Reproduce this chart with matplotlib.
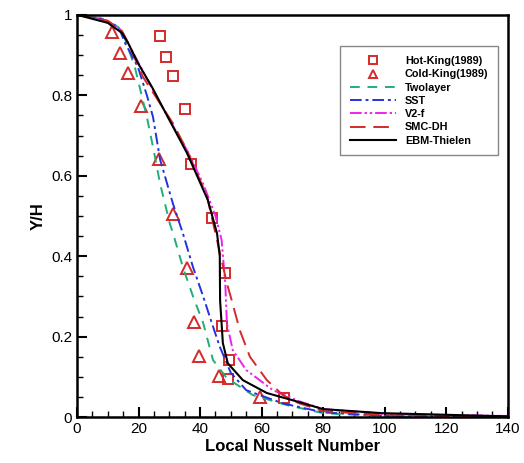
import numpy as np
import matplotlib.pyplot as plt
from matplotlib.ticker import MultipleLocator, FuncFormatter

plt.rcParams["font.family"] = ["Liberation Sans", "DejaVu Sans"]

# measured data (King 1989)
hot_nu = [26.9, 28.9, 31.2, 35.1, 37.0, 43.8, 48.1, 47.1, 49.4, 49.0, 67.2]
hot_y = [0.948, 0.896, 0.848, 0.766, 0.629, 0.495, 0.358, 0.226, 0.142, 0.095, 0.047]

cold_nu = [11.4, 14.0, 16.5, 20.8, 26.6, 31.1, 35.6, 38.0, 39.7, 46.2, 59.4]
cold_y = [0.958, 0.906, 0.856, 0.774, 0.642, 0.505, 0.370, 0.236, 0.152, 0.102, 0.050]

# model profiles
twolayer_nu = [0, 8, 13.3, 15.6, 18.8, 21.0, 22.7, 25.0, 27.0, 30.2, 31.2, 34.4, 37.7, 41.0, 44.2, 48.7, 57.1, 68.2, 80, 100, 140]
twolayer_y = [1, 0.99, 0.97, 0.94, 0.87, 0.80, 0.746, 0.66, 0.58, 0.48, 0.457, 0.373, 0.30, 0.234, 0.142, 0.097, 0.055, 0.03, 0.01, 0.002, 0.0]

sst_nu = [0, 8, 13.5, 15.6, 19.8, 22.7, 24.7, 27.0, 31.2, 34.4, 37.7, 41.0, 44.2, 46.4, 50.0, 55.0, 67.0, 80, 100, 140]
sst_y = [1, 0.99, 0.97, 0.93, 0.87, 0.80, 0.746, 0.64, 0.53, 0.457, 0.373, 0.30, 0.225, 0.175, 0.11, 0.067, 0.034, 0.012, 0.003, 0.0]

v2f_nu = [0, 10, 14.6, 16.6, 20, 27, 36, 41, 45, 47, 48.2, 48.7, 50.6, 55.0, 63.7, 72, 80, 100, 140]
v2f_y = [1, 0.985, 0.96, 0.93, 0.88, 0.78, 0.66, 0.58, 0.50, 0.44, 0.33, 0.234, 0.167, 0.117, 0.067, 0.04, 0.02, 0.008, 0.003]

smc_nu = [0, 10, 14.6, 16.6, 21.4, 31.2, 35.7, 42.2, 45.5, 48.7, 50.3, 52.9, 56.2, 61.7, 66.9, 72, 80, 100, 140]
smc_y = [1, 0.985, 0.96, 0.93, 0.846, 0.73, 0.664, 0.55, 0.44, 0.333, 0.29, 0.216, 0.15, 0.092, 0.055, 0.035, 0.015, 0.005, 0.001]

ebm_nu = [0, 10, 14.6, 16.6, 19.8, 24.4, 29.5, 35.7, 42.5, 45.5, 46.4, 46.5, 47.4, 49.0, 53.9, 61.7, 72.4, 80, 99, 140]
ebm_y = [1, 0.98, 0.955, 0.93, 0.88, 0.82, 0.746, 0.657, 0.54, 0.457, 0.40, 0.29, 0.184, 0.134, 0.092, 0.06, 0.037, 0.02, 0.01, 0.002]

fig = plt.figure(figsize=(5.24, 4.63), dpi=100)
ax = fig.add_axes([0.147, 0.099, 0.822, 0.869])

red = "#d42a2a"
ax.plot(hot_nu, hot_y, ls="none", marker="s", ms=7, mfc="none", mec=red, mew=1.4, label="Hot-King(1989)")
ax.plot(cold_nu, cold_y, ls="none", marker="^", ms=8, mfc="none", mec=red, mew=1.4, label="Cold-King(1989)")
ax.plot(twolayer_nu, twolayer_y, color="#1fae7a", lw=1.4, ls=(0, (5, 4)), label="Twolayer")
ax.plot(sst_nu, sst_y, color="#2233dd", lw=1.4, ls=(0, (6, 2, 1.5, 2)), label="SST")
ax.plot(v2f_nu, v2f_y, color="#ee22ee", lw=1.4, ls=(0, (6, 1.5, 1.2, 1.5, 1.2, 1.5)), label="V2-f")
ax.plot(smc_nu, smc_y, color=red, lw=1.4, ls=(0, (8, 4)), label="SMC-DH")
ax.plot(ebm_nu, ebm_y, color="black", lw=1.5, label="EBM-Thielen")

ax.set_xlim(0, 140)
ax.set_ylim(0, 1)
ax.xaxis.set_major_locator(MultipleLocator(20))
ax.xaxis.set_minor_locator(MultipleLocator(5))
ax.yaxis.set_major_locator(MultipleLocator(0.2))
ax.yaxis.set_minor_locator(MultipleLocator(0.05))
ax.yaxis.set_major_formatter(FuncFormatter(lambda v, p: f"{v:g}"))
ax.tick_params(which="both", direction="in", top=False, right=False)
ax.tick_params(which="major", length=7, width=1.5, labelsize=11)
ax.tick_params(which="minor", length=4, width=1)
for s in ax.spines.values():
    s.set_linewidth(1.8)

ax.set_xlabel("Local Nusselt Number", fontsize=12, fontweight="bold", labelpad=2)
ax.set_ylabel("Y/H", fontsize=12, fontweight="bold")

leg = ax.legend(loc="upper right", bbox_to_anchor=(0.99, 0.935),
                prop={"weight": "bold", "size": 7.8}, fancybox=False, edgecolor="#888888",
                handlelength=4.3, labelspacing=0.3, borderpad=0.9, framealpha=1,
                markerscale=0.8)
leg.get_frame().set_linewidth(1.0)

fig.savefig("out.png", dpi=100)
